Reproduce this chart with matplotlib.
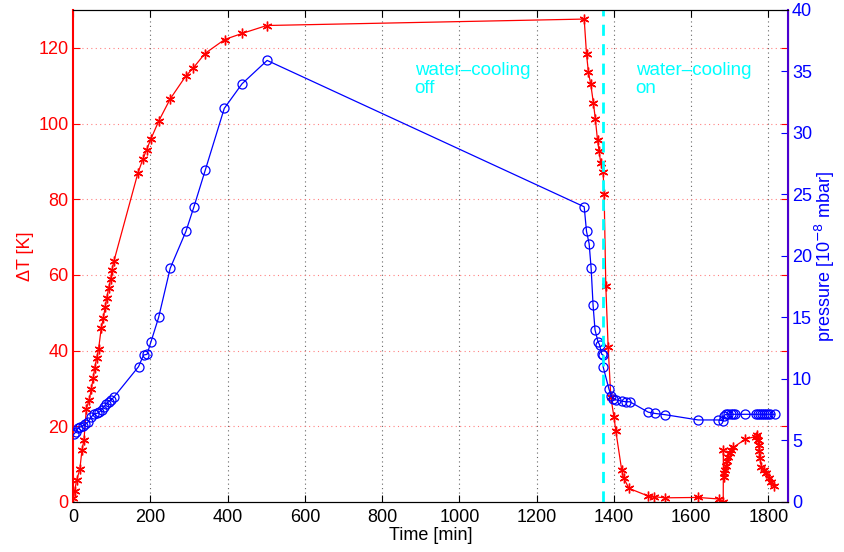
import matplotlib
matplotlib.use("Agg")
import matplotlib.pyplot as plt

plt.rcParams['font.family'] = ['Liberation Sans', 'DejaVu Sans']

# temperature difference (red, left axis)
temp_t = [0, 3.5, 8.7, 17, 22.5, 27.7, 34, 41.4, 46.6, 51.8,
          55.3, 60.5, 65.7, 72.5, 77.7, 82.8, 86.4, 91.6, 96.8, 100.2,
          105.4, 167, 180, 190, 201, 221, 251, 291, 310, 341,
          392, 437, 501, 1323, 1329, 1334, 1340, 1347, 1352, 1357.5,
          1361.6, 1366, 1372, 1374.6, 1379, 1385, 1392, 1400, 1405, 1420,
          1425, 1439, 1488, 1503, 1532, 1618, 1671, 1683, 1683.5, 1684.5,
          1685.5, 1688, 1690, 1692, 1696, 1700, 1704, 1709, 1740, 1767,
          1771, 1773, 1775, 1776, 1778, 1782, 1788, 1795, 1802, 1808,
          1815]
temp_dT = [1.0, 2.9, 5.8, 8.6, 13.7, 16.4, 24.7, 27.0, 29.8, 32.8,
           35.3, 38.0, 40.5, 46.0, 48.5, 51.6, 53.8, 56.5, 58.8, 61.3,
           63.7, 86.8, 90.5, 93.1, 95.9, 100.6, 106.5, 112.5, 114.6, 118.5,
           122.2, 123.8, 125.9, 127.6, 118.4, 113.5, 110.4, 105.3, 101.1, 95.6,
           92.7, 89.5, 87.2, 81.4, 57.1, 41.0, 27.7, 22.5, 18.7, 8.5,
           6.4, 3.6, 1.6, 1.4, 1.1, 1.2, 0.8, 0.0, 13.7, 6.7,
           7.6, 8.5, 9.4, 10.7, 11.8, 12.9, 13.7, 14.4, 16.6, 17.3,
           17.6, 16.5, 15.1, 13.5, 11.5, 9.3, 8.5, 7.6, 6.3, 5.4,
           4.3]

# pressure (blue, right axis)
pres_t = [1, 7, 12, 18, 25, 31, 38, 46.6, 52.8, 61,
          67, 74, 80, 85.4, 91.6, 97.6, 104.5, 169, 182, 191,
          201, 221, 251, 291.7, 312.5, 342, 391, 437, 502, 1323,
          1329, 1335.8, 1341, 1346, 1351, 1359, 1362.7, 1368.6, 1372, 1372,
          1387, 1393, 1398, 1406, 1420, 1431, 1441, 1489, 1506, 1532,
          1618, 1670, 1683, 1684.5, 1690, 1696, 1703, 1709, 1714, 1740,
          1767, 1773, 1778, 1783, 1788, 1793, 1800, 1805, 1816]
pres_p = [5.5, 5.7, 6.0, 6.1, 6.2, 6.3, 6.5, 6.9, 7.15, 7.2,
          7.3, 7.5, 7.75, 8.0, 8.15, 8.3, 8.5, 11.0, 11.95, 12.0,
          13.0, 15.0, 19.0, 22.0, 24.0, 27.0, 32.0, 34.0, 35.9, 24.0,
          22.0, 21.0, 19.0, 16.0, 14.0, 13.0, 12.8, 12.0, 11.95, 11.0,
          9.2, 8.6, 8.4, 8.3, 8.2, 8.15, 8.15, 7.3, 7.2, 7.1,
          6.67, 6.67, 6.6, 7.0, 7.13, 7.13, 7.13, 7.13, 7.13, 7.13,
          7.13, 7.13, 7.13, 7.13, 7.13, 7.13, 7.13, 7.13, 7.13]

cooling_on_t = 1372
x_ticks = [0, 200, 400, 600, 800, 1000, 1200, 1400, 1600, 1800]
left_ticks = [0, 20, 40, 60, 80, 100, 120]
right_ticks = [0, 5, 10, 15, 20, 25, 30, 35, 40]

fig = plt.figure(figsize=(8.45, 5.52), dpi=100)
ax = fig.add_axes([0.0867, 0.0906, 0.8455, 0.8913])
ax2 = ax.twinx()

# MATLAB-style asterisk marker (6 arms)
ax.plot(temp_t, temp_dT, color='red', linewidth=0.9, marker=(6, 2, 0),
        markersize=7, markeredgewidth=1.0)
ax2.plot(pres_t, pres_p, 'b-', marker='o', markersize=6.5, markerfacecolor='none',
         markeredgewidth=0.9, linewidth=0.9)
ax2.axvline(cooling_on_t, color='cyan', linestyle='--', linewidth=2, dashes=(4, 3))

ax.set_xlim(0, 1850)
ax.set_ylim(0, 130)
ax2.set_ylim(0, 40)
ax.set_xticks(x_ticks)
ax.set_yticks(left_ticks)
ax2.set_yticks(right_ticks)

# grid: dotted, x in dark gray, y in light red
for xt in x_ticks[1:]:
    ax.axvline(xt, color='#666666', linestyle=(0, (1, 3)), linewidth=0.8, zorder=0)
for yt in left_ticks[1:]:
    ax.axhline(yt, color='#ff8080', linestyle=(0, (1, 3)), linewidth=0.8, zorder=0)

ax.tick_params(axis='x', direction='in', top=True, labelsize=13, length=5, pad=5,
               colors='black')
ax.tick_params(axis='y', direction='in', right=True, labelsize=13, length=5, colors='red')
ax2.tick_params(axis='y', direction='in', labelsize=13, length=5, pad=3, colors='blue')

ax.spines['left'].set_color('red')
ax.spines['left'].set_linewidth(1.5)
ax2.spines['left'].set_visible(False)
ax2.spines['right'].set_color('#4b00d0')
ax2.spines['right'].set_linewidth(1.5)

ax.set_xlabel('Time [min]', fontsize=13, labelpad=1)
ax.set_ylabel('ΔT [K]', fontsize=13, color='red', labelpad=3)
ax2.set_ylabel('pressure [10$^{-8}$ mbar]', fontsize=13, color='blue', labelpad=1)

ax2.text(884, 35.8, 'water–cooling\noff', color='cyan', fontsize=13.5, va='top',
         ha='left', linespacing=1.1)
ax2.text(1456, 35.8, 'water–cooling\non', color='cyan', fontsize=13.5, va='top',
         ha='left', linespacing=1.1)

fig.savefig('out.png', dpi=100)
